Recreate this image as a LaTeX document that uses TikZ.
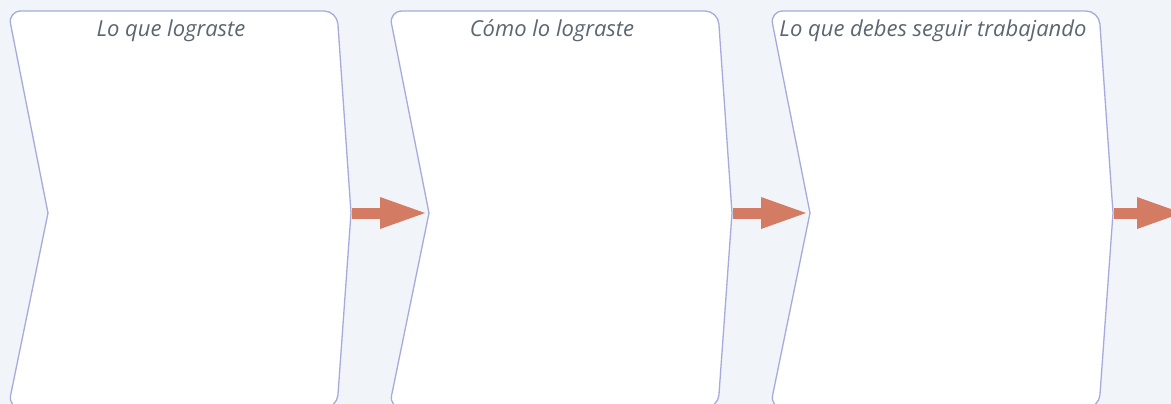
\documentclass[tikz,border=0pt]{standalone}
\usepackage{fontspec}
\setmainfont{Open Sans}
\usetikzlibrary{arrows.meta}
\definecolor{bgpanel}{RGB}{241,244,248}
\definecolor{chevline}{RGB}{166,171,222}
\definecolor{flowred}{RGB}{212,123,99}
\definecolor{captxt}{RGB}{92,102,112}
\begin{document}
\begin{tikzpicture}[x=1pt,y=-1pt,
  chev/.style={draw=chevline,line width=1.3pt,fill=white},
  flow/.style={-{Triangle[length=45pt,width=32pt,line width=0pt]},
    line width=11pt,flowred,shorten <=1pt,shorten >=4pt},
  captext/.style={font=\fontsize{22}{26}\selectfont\itshape,text=captxt,
    inner sep=0pt,anchor=base}]
\fill[bgpanel] (0,0) rectangle (1171,404);
\useasboundingbox (0,0) rectangle (1171,404);
\clip (0,0) rectangle (1171,404);
\foreach \i/\txt in {0/Lo que lograste,1/Cómo lo lograste,2/Lo que debes seguir trabajando}{
  \begin{scope}[xshift=\i*381pt]
    \path[chev,rounded corners=13pt] (8,11) -- (337,11) [sharp corners]
      -- (351,213) [rounded corners=13pt] -- (337,408) -- (8,408)
      [sharp corners] -- (48,213) [rounded corners=13pt] -- cycle;
    \coordinate (tip\i) at (351,213);
    \coordinate (notch\i) at (48,213);
    \node[captext] (t\i) at (171,37) {\txt};
  \end{scope}
}
\coordinate (out) at (1186,213);
\draw[flow] (tip0) -- (notch1);
\draw[flow] (tip1) -- (notch2);
\draw[flow] (tip2) -- (out);
\end{tikzpicture}
\end{document}
